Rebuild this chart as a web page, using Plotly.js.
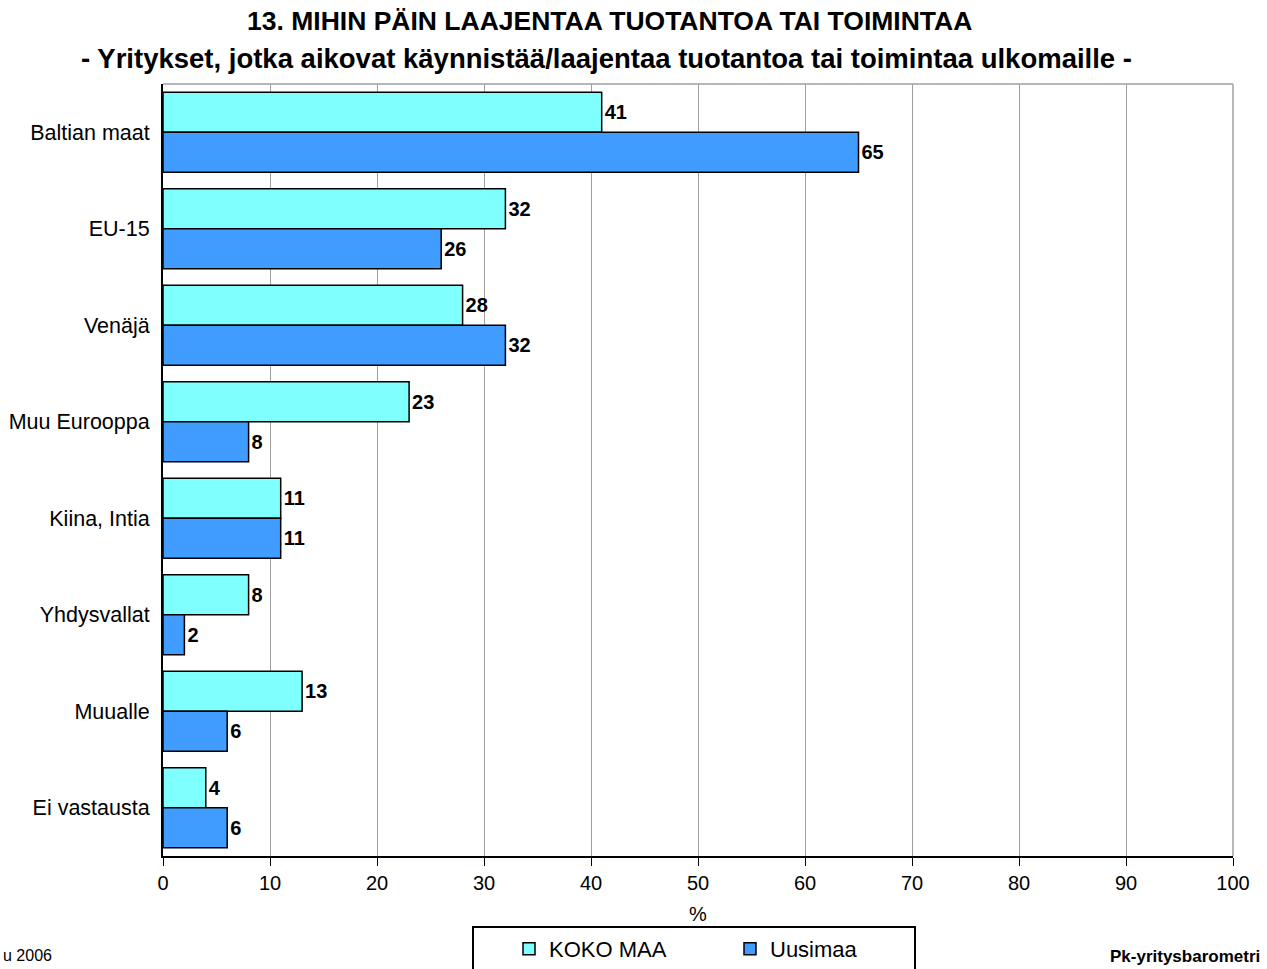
<!DOCTYPE html>
<html>
<head>
<meta charset="utf-8">
<script src="https://cdn.plot.ly/plotly-3.0.1.min.js"></script>
<style>html,body{margin:0;padding:0;background:#fff;}#chart{width:1267px;height:969px;}</style>
</head>
<body>
<div id="chart"></div>
<script>
const categories = ["Baltian maat","EU-15","Venäjä","Muu Eurooppa","Kiina, Intia","Yhdysvallat","Muualle","Ei vastausta"];
const kokoMaa = [41,32,28,23,11,8,13,4];
const uusimaa = [65,26,32,8,11,2,6,6];
const seriesNames = ["KOKO MAA","Uusimaa"];
const xTicks = [0,10,20,30,40,50,60,70,80,90,100];
const titleLine1 = "13. MIHIN PÄIN LAAJENTAA TUOTANTOA TAI TOIMINTAA";
const titleLine2 = "- Yritykset, jotka aikovat käynnistää/laajentaa tuotantoa tai toimintaa ulkomaille -";

const font = "Liberation Sans, Arial, sans-serif";
const labelFont = {family: font, size: 20, color: "#000", weight: "bold"};
const PW = 1070, PH = 772;

const traces = [
  {type:"bar", orientation:"h", name:seriesNames[0], y:categories, x:kokoMaa,
   marker:{color:"#80FFFF", line:{color:"#000", width:1.5}},
   text:kokoMaa.map(String), textposition:"outside", textfont:labelFont, cliponaxis:false, constraintext:"none"},
  {type:"bar", orientation:"h", name:seriesNames[1], y:categories, x:uusimaa,
   marker:{color:"#409CFF", line:{color:"#000", width:1.5}},
   text:uusimaa.map(String), textposition:"outside", textfont:labelFont, cliponaxis:false, constraintext:"none"}
];

const layout = {
  width:1267, height:969,
  margin:{l:163, r:34, t:84, b:113, autoexpand:false},
  paper_bgcolor:"#fff", plot_bgcolor:"#fff",
  font:{family:font, size:20, color:"#000"},
  barmode:"group", bargap:0.17, bargroupgap:0,
  showlegend:true,
  legend:{orientation:"h", x:(509-163)/PW, xanchor:"left", y:-(928-856)/PH, yanchor:"top",
    borderwidth:0, bgcolor:"rgba(0,0,0,0)", font:{family:font, size:22},
    itemwidth:30, entrywidth:176, entrywidthmode:"pixels", traceorder:"normal"},
  xaxis:{range:[0,100], tickvals:xTicks, ticks:"outside", ticklen:8, tickcolor:"#000",
    showline:true, linecolor:"#000", linewidth:2, showgrid:true, gridcolor:"#a0a0a0", gridwidth:1,
    zeroline:false, tickfont:{family:font, size:20},
    title:{text:"%", font:{family:font, size:20}, standoff:14}},
  yaxis:{autorange:"reversed", showline:true, linecolor:"#000", linewidth:2, ticks:"",
    tickfont:{family:font, size:21.5}, ticklabelstandoff:7, showgrid:false},
  shapes:[
    {type:"line", xref:"paper", yref:"paper", x0:0, x1:1, y0:1, y1:1, line:{color:"#a0a0a0", width:1.5}},
    {type:"line", xref:"paper", yref:"paper", x0:1, x1:1, y0:0, y1:1, line:{color:"#a0a0a0", width:1.5}},
    {type:"rect", xref:"paper", yref:"paper", x0:(473-163)/PW, x1:(915-163)/PW, y0:-(985-856)/PH, y1:-(927-856)/PH,
     line:{color:"#000", width:2}, fillcolor:"rgba(0,0,0,0)", layer:"below"}
  ],
  annotations:[
    {text:"<b>"+titleLine1+"</b>", xref:"paper", yref:"paper", x:(609.5-163)/PW, xanchor:"center",
     y:1+(84-21)/PH, yanchor:"middle", showarrow:false, font:{family:font, size:26.5}},
    {text:"<b>"+titleLine2+"</b>", xref:"paper", yref:"paper", x:(606.5-163)/PW, xanchor:"center",
     y:1+(84-58)/PH, yanchor:"middle", showarrow:false, font:{family:font, size:27.5}},
    {text:"u 2006", xref:"paper", yref:"paper", x:(1-163)/PW, xanchor:"left", y:-(955-856)/PH, yanchor:"middle",
     showarrow:false, font:{family:font, size:16}},
    {text:"<b>Pk-yritysbarometri</b>", xref:"paper", yref:"paper", x:(1262-163)/PW, xanchor:"right", y:-(956-856)/PH, yanchor:"middle",
     showarrow:false, font:{family:font, size:17}}
  ]
};

Plotly.newPlot("chart", traces, layout, {displayModeBar:false, responsive:false});
</script>
</body>
</html>
